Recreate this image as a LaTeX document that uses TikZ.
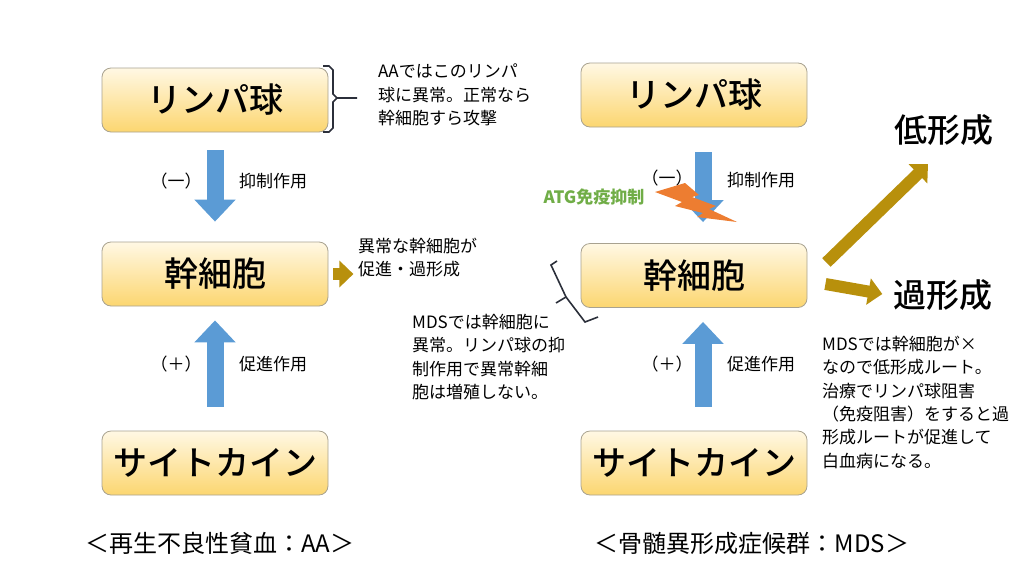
\documentclass[tikz,border=0pt]{standalone}
\usepackage{fontspec}
\setmainfont{Noto Sans CJK JP}
\newfontfamily\boxfont{Noto Sans CJK JP Medium}
\usetikzlibrary{arrows.meta}
\definecolor{boxtop}{HTML}{FFF8E4}
\definecolor{boxbot}{HTML}{FCD670}
\definecolor{boxline}{HTML}{A8A290}
\definecolor{arrblue}{HTML}{5B9BD5}
\definecolor{arrgold}{HTML}{B8900C}
\definecolor{boltorange}{HTML}{ED7D31}
\definecolor{atggreen}{HTML}{70AD47}
\definecolor{bracecol}{HTML}{2B2F3A}
\tikzset{
  cellbox/.style={draw=boxline, line width=0.8pt, rounded corners=9pt, top color=boxtop, bottom color=boxbot, minimum width=226pt, minimum height=64pt, inner sep=0pt, font=\boxfont\fontsize{34}{40}\selectfont},
  bluearr/.style={draw=arrblue, line width=17pt, -{Triangle[length=22pt,width=40pt]}},
  goldarr/.style={draw=arrgold, line width=12pt, -{Triangle[length=14pt,width=26pt]}},
  small/.style={font=\fontsize{17}{23.3}\selectfont, align=left, inner sep=0pt, anchor=north west},
  lbl/.style={font=\fontsize{17}{20}\selectfont, inner sep=0pt},
  big/.style={font=\boxfont\fontsize{33}{38}\selectfont, inner sep=0pt},
  title/.style={font=\fontsize{24}{28}\selectfont, inner sep=0pt},
  bracestyle/.style={draw=bracecol, line width=1.6pt}
}
\begin{document}
\begin{tikzpicture}[x=1pt,y=-1pt]
\useasboundingbox (0,0) rectangle (1024,576);
% left column
\node[cellbox] (lymL) at (215,100) {リンパ球};
\node[cellbox] (stemL) at (215,274) {幹細胞};
\node[cellbox] (cytL) at (215,463) {サイトカイン};
% right column
\node[cellbox] (lymR) at (694,95) {リンパ球};
\node[cellbox] (stemR) at (694,275.5) {幹細胞};
\node[cellbox] (cytR) at (694,463) {サイトカイン};

% blue arrows
\draw[bluearr] ([yshift=-18pt]lymL.south) -- ([yshift=20pt]stemL.north);
\draw[bluearr] ([yshift=24pt]cytL.north) -- ([yshift=-14pt]stemL.south);
\draw[bluearr] ([xshift=9pt,yshift=-25pt]lymR.south) -- ([xshift=9pt,yshift=21pt]stemR.north);
\draw[bluearr] ([xshift=9pt,yshift=24pt]cytR.north) -- ([xshift=9pt,yshift=-14pt]stemR.south);

% labels by arrows
\node[lbl] (mL) at (176,181) {（一）};
\node[lbl] (iL) at (273,181) {抑制作用};
\node[lbl] (pL) at (176,364) {（＋）};
\node[lbl] (sL) at (273,364) {促進作用};
\node[lbl] (mR) at (667,178) {（一）};
\node[lbl] (iR) at (761,180) {抑制作用};
\node[lbl] (pR) at (667,364) {（＋）};
\node[lbl] (sR) at (761,364) {促進作用};

% left brace
\draw[bracestyle] (323,66) -- (329,66) -- (333,70) -- (333,94) -- (337,98) -- (357,98);
\draw[bracestyle] (337,98) -- (333,102) -- (333,128) -- (329,132) -- (323,132);
\node[small] (noteAA) at (378,64) {AAではこのリンパ\\球に異常。正常なら\\幹細胞すら攻撃};

% left gold arrow
\draw[goldarr] ([xshift=5pt]stemL.east) -- ([xshift=25pt]stemL.east);
\node[small] (abn) at (358,238) {異常な幹細胞が\\促進・過形成};

% MDS brace
\draw[bracestyle] (557,261) -- (551,265) -- (566,297) -- (585,322) -- (598,317);
\draw[bracestyle] (566,297) -- (556,303);
\node[small] (noteMDS) at (412,314) {MDSでは幹細胞に\\異常。リンパ球の抑\\制作用で異常幹細\\胞は増殖しない。};

% lightning bolt
\fill[boltorange] (655,192) -- (685,183) -- (699,195) -- (692,197) -- (716,206) -- (709,209) -- (737,222) -- (697,217) -- (703,213) -- (675,206) -- (682,202) -- cycle;
\node[font=\fontsize{17}{20}\selectfont\bfseries, text=atggreen, inner sep=0pt] (atg) at (594,197) {ATG免疫抑制};

% right outcomes
\node[big] (low) at (944,130) {低形成};
\node[big] (hyper) at (943,295) {過形成};
\draw[goldarr] ([xshift=19pt,yshift=13pt]stemR.east) -- ([xshift=-16pt,yshift=-34pt]low.center);
\draw[goldarr] ([xshift=18pt,yshift=-8.5pt]stemR.east) -- ([xshift=-11pt,yshift=1pt]hyper.west);

\node[small] (noteR) at (822,336) {MDSでは幹細胞が×\\なので低形成ルート。\\治療でリンパ球阻害\\（免疫阻害）をすると過\\形成ルートが促進して\\白血病になる。};

% titles
\node[title] (tAA) at (220,543) {＜再生不良性貧血：AA＞};
\node[title] (tMDS) at (752,543) {＜骨髄異形成症候群：MDS＞};
\end{tikzpicture}
\end{document}
